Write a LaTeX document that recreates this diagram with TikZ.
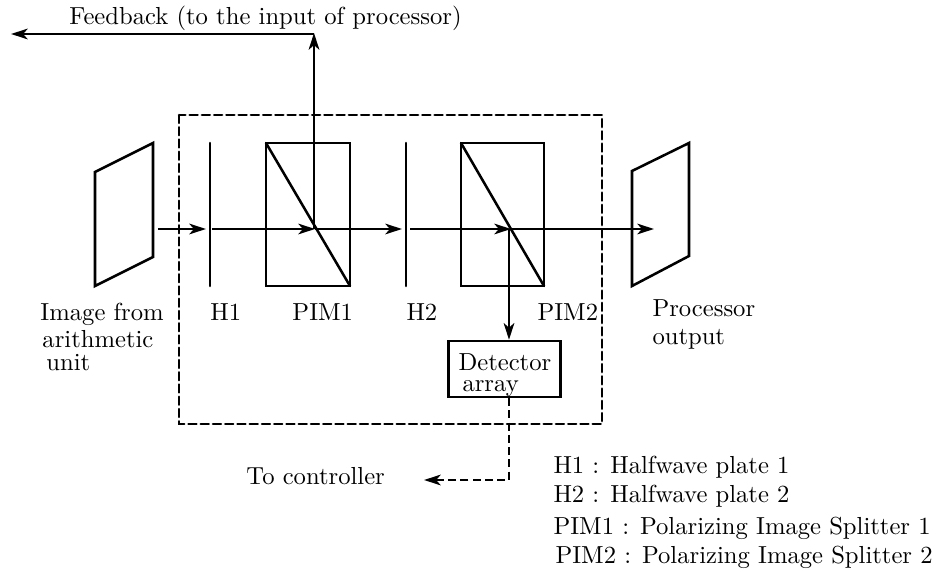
\documentclass[tikz,border=0pt]{standalone}
\usetikzlibrary{arrows.meta}
\begin{document}
\begin{tikzpicture}[
  x=0.0264cm, y=-0.0264cm,
  font=\fontsize{10pt}{12pt}\selectfont,
  lbl/.style={inner sep=0pt, anchor=base west, scale=1.85},
  linea/.style={line width=1.9pt, line cap=round, black},
  rayas/.style={dash pattern=on 6pt off 3.2pt},
  flecha/.style={-{Stealth[length=4.4mm,width=2.8mm,inset=1.2mm]}, line width=1.9pt, black},
  caja/.style={draw, line width=1.9pt, inner sep=0pt}
]
  \useasboundingbox (0,0) rectangle (938,572);
  % enclosure
  \draw[linea, rayas] (179,115) rectangle (602,424);
  % image planes
  \draw[linea] (95,172) -- (153,143) -- (153,257) -- (95,286) -- cycle;
  \draw[linea] (632,171) -- (689,143) -- (689,256) -- (632,286) -- cycle;
  % half wave plates
  \draw[linea] (210,143) -- (210,286);
  \draw[linea] (406,143) -- (406,286);
  % splitters
  \draw[linea] (266,143) rectangle (350,286);
  \draw[linea] (266,143) -- (350,286);
  \draw[linea] (461,143) rectangle (544,286);
  \draw[linea] (461,143) -- (544,286);
  % nodes
  \coordinate (imgin) at (158,229);
  \coordinate (h1) at (206,229);
  \coordinate (h1b) at (212,229);
  \coordinate (s1) at (315,229);
  \coordinate (h2) at (402,229);
  \coordinate (h2b) at (410,229);
  \coordinate (s2) at (511,229);
  \coordinate (sb) at (509,229);
  \coordinate (out) at (654,229);
  \coordinate (fbtop) at (314,33);
  \coordinate (fbleft) at (11,34);
  \node[caja, minimum width=84.5pt, minimum height=42pt] (det) at (504.5,369) {};
  \coordinate (c1) at (509,480);
  \coordinate (c2) at (424,480);
  % rays
  \draw[flecha] (imgin) -- (h1);
  \draw[flecha] (h1b) -- (s1);
  \draw[flecha] (s1) -- (h2);
  \draw[flecha] (h2b) -- (s2);
  \draw[flecha] (s2) -- (out);
  \draw[flecha] (fbtop |- s1) -- (fbtop);
  \draw[flecha] (fbtop |- fbleft) -- (fbleft);
  \draw[flecha] (sb) -- (det.north -| sb);
  \draw[flecha, rayas] (det.south -| c1) -- (c1) -- (c2);
  % labels
  \node[lbl] (tfb) at (69,25) {Feedback (to the input of processor)};
  \node[lbl] (tin) at (40,321) {Image from};
  \node[lbl] (tin2) at (42,347) {arithmetic};
  \node[lbl] (tin3) at (46,370) {unit};
  \node[lbl] (th1) at (210,321) {H1};
  \node[lbl] (tp1) at (292,321) {PIM1};
  \node[lbl] (th2) at (406,321) {H2};
  \node[lbl] (tp2) at (537,321) {PIM2};
  \node[lbl] (tdet) at (458,370) {Detector};
  \node[lbl] (tarr) at (462,391) {array};
  \node[lbl] (tout) at (652,317) {Processor};
  \node[lbl] (tout2) at (652,345) {output};
  \node[lbl] (tctl) at (246,484) {To controller};
  \node[lbl] (k1) at (553,473) {H1 : Halfwave plate 1};
  \node[lbl] (k2) at (553,502) {H2 : Halfwave plate 2};
  \node[lbl] (k3) at (553,534) {PIM1 : Polarizing Image Splitter 1};
  \node[lbl] (k4) at (555,563) {PIM2 : Polarizing Image Splitter 2};
\end{tikzpicture}
\end{document}
